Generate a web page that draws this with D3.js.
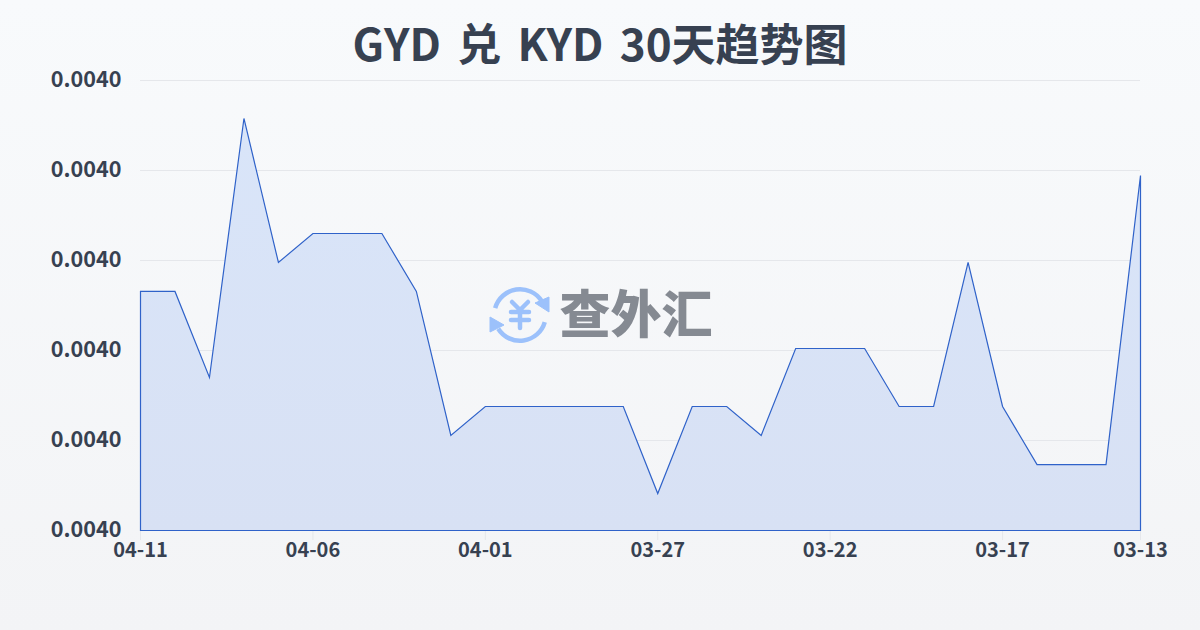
<!DOCTYPE html>
<html><head><meta charset="utf-8">
<script src="https://cdnjs.cloudflare.com/ajax/libs/d3/7.8.5/d3.min.js"></script>
<style>html,body{margin:0;padding:0;background:#f8fafc}svg{display:block}</style>
</head><body><svg id="c" width="1200" height="630"></svg>
<script>
const titleText = "GYD 兑 KYD 30天趋势图";
const dates = ["04-11","04-10","04-09","04-08","04-07","04-06","04-05","04-04","04-03","04-02","04-01","03-31","03-30","03-29","03-28","03-27","03-26","03-25","03-24","03-23","03-22","03-21","03-20","03-19","03-18","03-17","03-16","03-15","03-14","03-13"];
const rates = [0.00399656,0.00399656,0.00398700,0.00401578,0.00399978,0.00400300,0.00400300,0.00400300,0.00399656,0.00398056,0.00398378,0.00398378,0.00398378,0.00398378,0.00398378,0.00397411,0.00398378,0.00398378,0.00398056,0.00399022,0.00399022,0.00399022,0.00398378,0.00398378,0.00399978,0.00398378,0.00397733,0.00397733,0.00397733,0.00400944];
const yTicks = [0.00397,0.00398,0.00399,0.00400,0.00401,0.00402];
const xTickDates = ["04-11","04-06","04-01","03-27","03-22","03-17","03-13"];
const logoText = "查外汇";

const svg = d3.select("#c");
const defs = svg.append("defs");
const bg = defs.append("linearGradient").attr("id","bg").attr("x1",0).attr("y1",0).attr("x2",0).attr("y2",1);
bg.append("stop").attr("offset",0).attr("stop-color","#f8fafc");
bg.append("stop").attr("offset",1).attr("stop-color","#f3f4f6");
const af = defs.append("linearGradient").attr("id","af").attr("x1",0).attr("y1",0).attr("x2",0).attr("y2",1);
af.append("stop").attr("offset",0).attr("stop-color","#d9e5f9");
af.append("stop").attr("offset",1).attr("stop-color","#d8e1f4");
svg.append("rect").attr("width",1200).attr("height",630).attr("fill","url(#bg)");

const font = "'Noto Sans CJK SC',sans-serif";
const x = d3.scalePoint().domain(dates).range([140,1140]);
const y = d3.scaleLinear().domain([0.00397,0.00402]).range([530,80]);

svg.append("text").attr("x",600).attr("y",61).attr("text-anchor","middle").attr("word-spacing",6.3)
  .attr("font-family",font).attr("font-weight",700).attr("font-size",44).attr("fill","#374151").text(titleText);

const gridG = svg.append("g");
gridG.selectAll("line").data(yTicks).join("line")
  .attr("x1",140).attr("x2",1140).attr("y1",d=>y(d)+.5).attr("y2",d=>y(d)+.5)
  .attr("stroke","#e5e7eb").attr("stroke-width",1);

svg.selectAll("text.yl").data(yTicks).join("text").attr("class","yl")
  .attr("x",121.5).attr("y",d=>y(d)+6.5).attr("text-anchor","end")
  .attr("font-family",font).attr("font-weight",700).attr("font-size",21.6).attr("fill","#374151")
  .text(d=>d.toFixed(4));

const xAxis = d3.axisBottom(x).tickValues(xTickDates).tickSize(10).tickPadding(3);
const xg = svg.append("g").attr("transform","translate(0,530)").call(xAxis);
xg.select(".domain").remove();
xg.selectAll("line").attr("stroke","#e5e7eb").attr("stroke-width",1);
xg.selectAll("text").attr("font-family",font).attr("font-weight",700).attr("font-size",20).attr("fill","#374151");

const area = d3.area().x((d,i)=>x(dates[i])).y0(y(0.00397)).y1(d=>y(d));
svg.append("path").datum(rates).attr("d",d=>area(d)).attr("transform","translate(.5,.5)")
  .attr("fill","url(#af)").attr("stroke","#2f62c9").attr("stroke-width",1.2).attr("stroke-linejoin","miter");

const logo = svg.append("g").attr("transform","translate(520,315)");
const blue = "#9cc1fb";
const arc = d3.arc();
logo.append("path").attr("d",arc({innerRadius:23.5,outerRadius:28,startAngle:-1.3,endAngle:1.0})).attr("fill",blue);
logo.append("path").attr("d",arc({innerRadius:23.5,outerRadius:28,startAngle:1.85,endAngle:4.15})).attr("fill",blue);
logo.append("path").attr("d","M15,-12 L29,-18 L29,-3 Z").attr("fill",blue).attr("stroke",blue).attr("stroke-linejoin","round");
logo.append("path").attr("d","M-16,10 L-30,2 L-30,17 Z").attr("fill",blue).attr("stroke",blue).attr("stroke-linejoin","round");
logo.append("path").attr("d","M-8,-13 L0,-5 L8,-13 M-9,-3 H9 M-9,5 H9 M0,-5 V13")
  .attr("fill","none").attr("stroke",blue).attr("stroke-width",4.5).attr("stroke-linecap","round").attr("stroke-linejoin","round");
svg.append("text").attr("x",636).attr("y",333).attr("text-anchor","middle")
  .attr("font-family","'Noto Sans CJK SC'").attr("font-weight",900).attr("font-size",51).attr("fill","#858a92").text(logoText);
</script></body></html>
